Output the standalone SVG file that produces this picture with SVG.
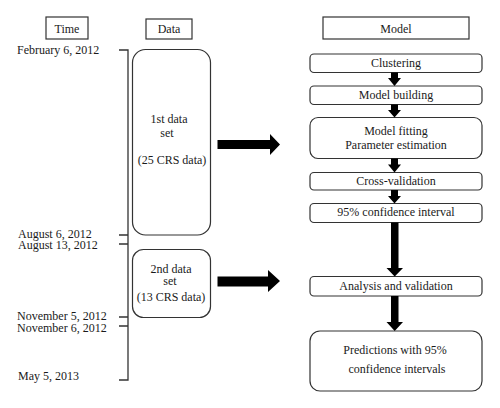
<svg xmlns="http://www.w3.org/2000/svg" width="500" height="408" viewBox="0 0 500 408">
<style>
text{font-family:"Liberation Serif","Times New Roman",serif;font-size:12px;fill:#1a1a1a}
.c{text-anchor:middle}
.box{fill:#fff;stroke:#333;stroke-width:1.2}
.tl{fill:none;stroke:#333;stroke-width:1.3}
.ar{fill:#000}
</style>
<rect width="500" height="408" fill="#fff"/>
<g id="time-header"><rect class="box" x="46" y="17" width="42" height="22"/><text class="c" x="67" y="32.5">Time</text></g>
<g id="data-header"><rect class="box" x="146" y="19" width="46" height="20"/><text class="c" x="169" y="32.5">Data</text></g>
<g id="model-header"><rect class="box" x="323" y="17" width="146" height="22"/><text class="c" x="396" y="32.5">Model</text></g>
<g id="timeline">
<path class="tl" d="M119,50H128V380H119M119,235H128M119,244H128M119,317H128M119,326H128"/>
<text x="17" y="54">February 6, 2012</text>
<text x="18" y="238">August 6, 2012</text>
<text x="18" y="249">August 13, 2012</text>
<text x="17" y="320">November 5, 2012</text>
<text x="17" y="331.5">November 6, 2012</text>
<text x="18" y="380">May 5, 2013</text>
</g>
<g id="data1"><rect class="box" x="132.5" y="49.5" width="78" height="185.5" rx="13"/>
<text class="c" x="169" y="123">1st data</text><text class="c" x="167" y="137">set</text><text class="c" x="172" y="164">(25 CRS data)</text></g>
<g id="data2"><rect class="box" x="132.5" y="249.5" width="78" height="68" rx="11"/>
<text class="c" x="171" y="272.5">2nd data</text><text class="c" x="170" y="285">set</text><text class="c" x="171" y="301">(13 CRS data)</text></g>
<g id="clustering"><rect class="box" x="310" y="54" width="172" height="18.5" rx="4"/><text class="c" x="396" y="66.5">Clustering</text></g>
<g id="model-building"><rect class="box" x="310" y="86" width="172" height="18.5" rx="4"/><text class="c" x="396" y="98.5">Model building</text></g>
<g id="model-fitting"><rect class="box" x="310" y="117.5" width="172" height="41" rx="8"/><text class="c" x="396" y="135">Model fitting</text><text class="c" x="396" y="148.5">Parameter estimation</text></g>
<g id="cross-validation"><rect class="box" x="310" y="172.5" width="172" height="17.5" rx="4"/><text class="c" x="396" y="185">Cross-validation</text></g>
<g id="ci"><rect class="box" x="310" y="203.5" width="172" height="19" rx="4"/><text class="c" x="396" y="216">95% confidence interval</text></g>
<g id="analysis"><rect class="box" x="310" y="276.5" width="172" height="19.5" rx="4"/><text class="c" x="396" y="289.5">Analysis and validation</text></g>
<g id="predictions"><rect class="box" x="310" y="331" width="172" height="60" rx="10"/><text class="c" x="395" y="354">Predictions with 95%</text><text class="c" x="397" y="372.5">confidence intervals</text></g>
<g id="connectors">
<polygon class="ar" points="217.5,140 270,140 270,134 280,144.5 270,155 270,149 217.5,149"/>
<polygon class="ar" points="217.5,276.5 268,276.5 268,270 280,281 268,292 268,286.5 217.5,286.5"/>
<polygon class="ar" points="391,72.5 398,72.5 398,78 401,78 394.5,86 388,78 391,78"/>
<polygon class="ar" points="391,104.5 398,104.5 398,110 401,110 394.5,117.5 388,110 391,110"/>
<polygon class="ar" points="391,158.5 398,158.5 398,164.5 401,164.5 394.5,172.5 388,164.5 391,164.5"/>
<polygon class="ar" points="391,190 398,190 398,196 401,196 394.5,203.5 388,196 391,196"/>
<polygon class="ar" points="391,222.5 398.5,222.5 398.5,268 403,268 394.7,276.5 386.5,268 391,268"/>
<polygon class="ar" points="391,296 398.5,296 398.5,322 403,322 394.7,331 386.5,322 391,322"/>
</g>
</svg>
